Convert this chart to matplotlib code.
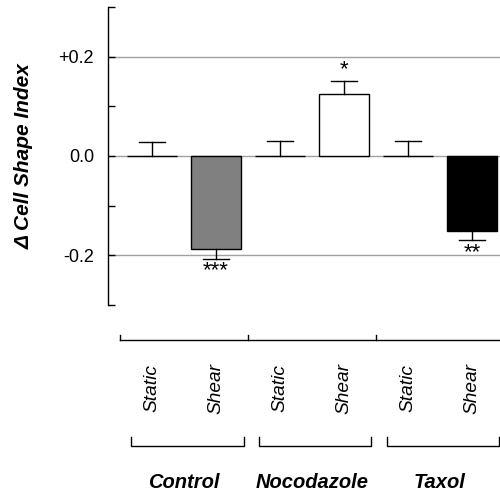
import matplotlib.pyplot as plt
import matplotlib.transforms as mtransforms
import numpy as np

plt.rcParams["font.family"] = ["Liberation Sans", "DejaVu Sans"]

groups = ["Control", "Nocodazole", "Taxol"]
conditions = ["Static", "Shear"]
means = [0.0, -0.187, 0.0, 0.125, 0.0, -0.152]
errors = [0.029, 0.020, 0.031, 0.025, 0.031, 0.018]
colors = ["white", "#808080", "white", "white", "white", "black"]
stars = ["", "***", "", "*", "", "**"]

positions = np.arange(len(means))

fig = plt.figure(figsize=(5, 4.95), dpi=100)
ax = fig.add_axes([0.216, 0.384, 0.784, 0.602])

for level in (-0.2, 0.0, 0.2):
    ax.axhline(level, color="#a0a0a0", linewidth=1.0, zorder=0)

ax.bar(positions, means, width=0.78, color=colors, edgecolor="black",
       linewidth=1.0, zorder=2)

for x, m, e, s in zip(positions, means, errors, stars):
    direction = -1 if m < 0 else 1
    top = m + direction * e
    ax.plot([x, x], [m, top], color="black", linewidth=1.0, zorder=3)
    ax.plot([x - 0.2, x + 0.2], [top, top], color="black", linewidth=1.0, zorder=3)
    if s:
        ax.annotate(s, (x, top), xytext=(0, direction * 1), textcoords="offset points",
                    ha="center", va="bottom" if direction > 0 else "top",
                    fontsize=16)

ax.set_xlim(-0.69, 5.44)
ax.set_ylim(-0.3, 0.3)
ax.set_yticks(np.arange(-0.3, 0.31, 0.1))
ax.set_yticklabels(["", "-0.2", "", "0.0", "", "+0.2", ""], fontsize=13)
ax.tick_params(axis="y", direction="in", length=5, width=1.0, pad=10)
ax.set_xticks([])
for side in ("top", "right", "bottom"):
    ax.spines[side].set_visible(False)
ax.spines["left"].set_linewidth(1.0)

ax.set_ylabel("\u0394 Cell Shape Index", fontsize=15, fontweight="bold",
              fontstyle="italic", labelpad=18)

# category labels and brackets below the plot
trans = mtransforms.blended_transform_factory(ax.transData, ax.transAxes)
bounds = np.arange(-0.5, len(means), 2)
ax.plot([bounds[0], ax.get_xlim()[1]], [-0.117, -0.117], color="black",
        linewidth=1.0, transform=trans, clip_on=False)
for b in bounds:
    ax.plot([b, b], [-0.117, -0.100], color="black", linewidth=1.0,
            transform=trans, clip_on=False)

for i, x in enumerate(positions):
    ax.text(x, -0.279, conditions[i % 2], transform=trans, rotation=90,
            ha="center", va="center", fontsize=13.8, fontstyle="italic")

for g, name in enumerate(groups):
    left, right = 2 * g - 0.33, 2 * g + 1.43
    ax.plot([left, left, right, right], [-0.443, -0.473, -0.473, -0.443],
            color="black", linewidth=1.0, transform=trans, clip_on=False)
    ax.text(2 * g + 0.5, -0.597, name, transform=trans, ha="center",
            va="center", fontsize=14.5, fontweight="bold", fontstyle="italic")

fig.savefig("out.png", dpi=100)
